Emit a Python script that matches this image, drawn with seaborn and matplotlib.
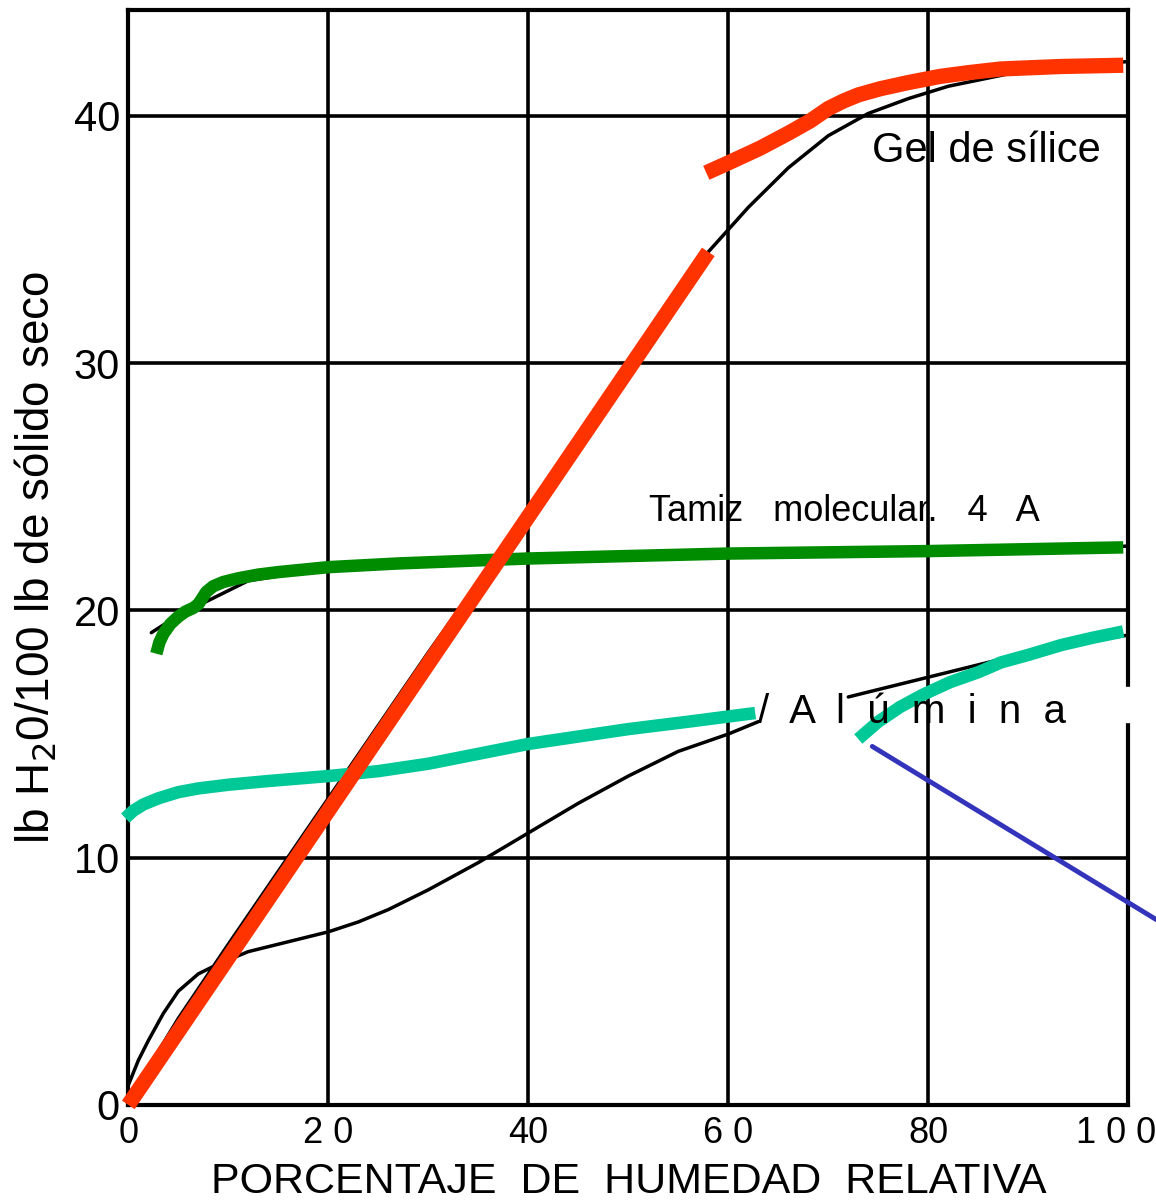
import numpy as np
import matplotlib
matplotlib.use('Agg')
import matplotlib.pyplot as plt
import matplotlib.transforms as mtransforms
from matplotlib.patches import Rectangle
import seaborn as sns

# Datos (x = % humedad relativa, y = lb H2O/100 lb sólido seco)

# Curvas negras originales
gel_x = [0, 2, 5, 10, 20, 30, 40, 50, 58, 62, 66, 70, 74, 78, 82, 88, 94, 100]
gel_y = [0.3, 1.5, 3.5, 6.5, 12.4, 18.3, 24.0, 29.5, 34.5, 36.3, 37.9, 39.2, 40.1, 40.7, 41.2, 41.7, 42.0, 42.2]

alumina_x = [0, 1, 2, 3.5, 5, 7, 9, 12, 16, 20, 23, 26, 30, 35, 40, 45, 50, 55, 60, 63]
alumina_y = [0.8, 1.8, 2.6, 3.7, 4.6, 5.3, 5.7, 6.2, 6.6, 7.0, 7.4, 7.9, 8.7, 9.8, 11.0, 12.2, 13.3, 14.3, 15.0, 15.5]
alumina2_x = [72, 76, 79, 82, 85, 90, 95, 100]
alumina2_y = [16.5, 16.9, 17.2, 17.5, 17.8, 18.3, 18.7, 19.0]

tamiz_x = [2.3, 5, 8, 12, 20, 40, 60, 80, 100]
tamiz_y = [19.1, 19.8, 20.4, 21.2, 21.7, 22.1, 22.3, 22.4, 22.6]

# Trazos de color superpuestos
rojo1_x = [0, 58]
rojo1_y = [0, 34.5]
rojo2_x = [57.8, 60, 63.2, 66, 68.2, 70, 71.5, 73, 75.2, 78, 81.2, 84, 87.3, 93.3, 99.5]
rojo2_y = [37.7, 38.1, 38.7, 39.3, 39.8, 40.3, 40.6, 40.85, 41.1, 41.35, 41.6, 41.75, 41.9, 42.0, 42.05]

verde_x = [2.8, 3.1, 3.5, 4.2, 5.0, 5.7, 6.5, 7.0, 7.4, 7.8, 8.5, 9.5, 11, 13, 15, 20, 27, 40, 60, 80, 99.5]
verde_y = [18.25, 18.7, 19.05, 19.45, 19.75, 19.95, 20.1, 20.25, 20.5, 20.75, 20.98, 21.15, 21.3, 21.45,
           21.55, 21.75, 21.9, 22.1, 22.3, 22.4, 22.55]

turq1_x = [-0.3, 0.5, 1.5, 3, 5, 7, 10, 14, 20, 25, 30, 35, 40, 45, 50, 56, 62.7]
turq1_y = [11.6, 11.9, 12.15, 12.4, 12.65, 12.8, 12.95, 13.1, 13.3, 13.5, 13.8, 14.2, 14.6, 14.9, 15.2, 15.5, 15.85]
turq2_x = [73, 75, 77.2, 79.5, 82.2, 85, 87.3, 90, 93.3, 96.5, 99.5]
turq2_y = [14.8, 15.5, 16.1, 16.6, 17.1, 17.5, 17.9, 18.2, 18.6, 18.9, 19.15]

azul_x = [74.4, 104]
azul_y = [14.5, 7.2]

xticks = [0, 20, 40, 60, 80, 100]
xtick_labels = ['0', '2 0', '40', '6 0', '80', '1 0 0']
yticks = [0, 10, 20, 30, 40]
ytick_labels = ['0', '10', '20', '30', '40']

sns.set_style('white')
plt.rcParams['font.family'] = ['Liberation Sans', 'DejaVu Sans']
plt.rcParams['text.color'] = 'black'
plt.rcParams['axes.labelcolor'] = 'black'
plt.rcParams['xtick.color'] = 'black'
plt.rcParams['ytick.color'] = 'black'

fig = plt.figure(figsize=(11.56, 12.01), dpi=100)
ax = fig.add_axes([0.111, 0.080, 0.865, 0.912])

# grid negro grueso
for xv in xticks[1:-1]:
    ax.axvline(xv, color='black', lw=2.6, zorder=1)
for yv in yticks[1:]:
    ax.axhline(yv, color='black', lw=2.6, zorder=1)

# curvas negras
for xs, ys in [(gel_x, gel_y), (alumina_x, alumina_y), (alumina2_x, alumina2_y), (tamiz_x, tamiz_y)]:
    sns.lineplot(x=xs, y=ys, ax=ax, color='black', lw=2.5, sort=False, estimator=None, zorder=2)

# trazos de color
kw = dict(sort=False, estimator=None, solid_capstyle='butt', solid_joinstyle='round')
sns.lineplot(x=rojo1_x, y=rojo1_y, ax=ax, color='#ff3300', lw=11, zorder=4, clip_on=False, **kw)
sns.lineplot(x=rojo2_x, y=rojo2_y, ax=ax, color='#ff3300', lw=11, zorder=4, **kw)
sns.lineplot(x=verde_x, y=verde_y, ax=ax, color='#008c00', lw=9, zorder=3, **kw)
sns.lineplot(x=turq1_x, y=turq1_y, ax=ax, color='#00c896', lw=9, zorder=3, clip_on=False, **kw)
sns.lineplot(x=turq2_x, y=turq2_y, ax=ax, color='#00c896', lw=9, zorder=3, **kw)
sns.lineplot(x=azul_x, y=azul_y, ax=ax, color='#3333bb', lw=3.5, zorder=3, clip_on=False,
             sort=False, estimator=None)

ax.set_xlim(0, 100)
ax.set_ylim(0, 44.3)

ax.set_xticks(xticks)
ax.set_xticklabels(xtick_labels, fontsize=26)
ax.set_yticks(yticks)
ax.set_yticklabels(ytick_labels, fontsize=30)
ax.tick_params(axis='both', length=0, pad=6)
ax.tick_params(axis='x', pad=8)

# el "1 0 0" se sale un poco hacia la derecha como en el original
last = ax.get_xticklabels()[-1]
last.set_horizontalalignment('right')
last.set_transform(last.get_transform() + mtransforms.ScaledTranslation(0.28, 0, fig.dpi_scale_trans))

for s in ax.spines.values():
    s.set_color('black')
    s.set_linewidth(3)
    s.set_zorder(1)

# hueco blanco en el borde derecho junto a "Alúmina"
ax.add_patch(Rectangle((98.8, 15.5), 3.5, 1.4, color='white', clip_on=False, zorder=6))

# etiquetas de las curvas
ax.text(85.8, 38.6, 'Gel de sílice', fontsize=30, ha='center', va='center', zorder=5)
ax.text(71.6, 24.0, 'Tamiz   molecular.   4   A', fontsize=26, ha='center', va='center', zorder=5)
ax.text(63, 15.9, '/  A  l  ú  m  i  n  a', fontsize=29, ha='left', va='center', zorder=5)

ax.set_xlabel('PORCENTAJE  DE  HUMEDAD  RELATIVA', fontsize=31, labelpad=8)
ax.set_ylabel('lb H$_2$0/100 lb de sólido seco', fontsize=33, labelpad=10)

fig.savefig('out.png', dpi=100, facecolor='white')
